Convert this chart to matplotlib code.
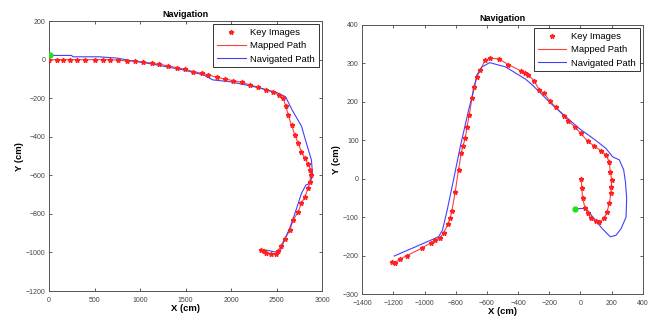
import matplotlib
matplotlib.use("Agg")
import matplotlib.pyplot as plt

plt.rcParams['font.family'] = ['Liberation Sans', 'DejaVu Sans']

# left run: mapped path (key images) and navigated path
map1_x = [0, 84, 157, 231, 311, 395, 505, 596, 670, 761, 853, 944, 1035, 1127, 1211,
          1310, 1401, 1493, 1584, 1676, 1749, 1840, 1932, 2023, 2115, 2206, 2298, 2389,
          2462, 2528, 2572, 2601, 2627, 2664, 2700, 2737, 2773, 2810, 2846, 2872, 2876,
          2865, 2847, 2810, 2773, 2737, 2682, 2645, 2591, 2547, 2517, 2492, 2444, 2389,
          2360, 2334]
map1_y = [0, 0, 0, 0, 0, 0, 0, 0, 0, -3, -6, -8, -13, -18, -24,
          -32, -41, -50, -62, -70, -79, -91, -100, -109, -117, -131, -143, -157,
          -169, -183, -200, -240, -287, -339, -391, -434, -478, -512, -542, -573, -599,
          -634, -668, -711, -746, -789, -833, -885, -928, -968, -992, -1006, -1006, -1003,
          -992, -989]
nav1_x = [11, 250, 260, 550, 750, 900, 1100, 1300, 1500, 1700, 1800, 2000, 2300, 2500,
          2598, 2671, 2773, 2828, 2883, 2894, 2872, 2821, 2773, 2700, 2640, 2590, 2536,
          2481, 2389]
nav1_y = [22, 22, 15, 15, 8, -5, -20, -38, -55, -80, -105, -115, -145, -170,
          -192, -261, -344, -434, -521, -590, -639, -651, -694, -800, -880, -930, -998,
          -997, -988]
start1 = (11, 22)

# right run
map2_x = [4, 9, 13, 28, 45, 67, 99, 120, 152, 170, 185, 195, 198, 200, 191, 185, 163,
          131, 88, 45, 2, -34, -79, -105, -159, -198, -234, -266, -298, -335, -356, -384,
          -464, -524, -578, -610, -642, -664, -685, -696, -713, -728, -739, -754, -764,
          -782, -803, -825, -835, -850, -878, -900, -932, -957, -1018, -1114, -1157,
          -1190, -1210]
map2_y = [0, -25, -49, -75, -90, -103, -110, -112, -103, -86, -64, -38, -21, -3, 18, 44,
          62, 73, 85, 98, 118, 134, 151, 163, 186, 203, 222, 232, 255, 270, 276, 281,
          297, 312, 313, 309, 284, 265, 238, 209, 166, 134, 105, 85, 66,
          24, -34, -84, -103, -118, -141, -154, -160, -166, -181, -200, -209,
          -219, -216]
nav2_x = [-34, 34, 60, 100, 140, 191, 228, 260, 292, 296, 288, 277, 249, 206, 163, 94,
          -9, -180, -309, -352, -481, -582, -631, -664, -679, -717, -771, -814, -857,
          -885, -910, -1194]
nav2_y = [-78, -77, -90, -110, -130, -151, -147, -130, -100, -50, -8, 23, 49, 57, 79,
          101, 131, 192, 244, 259, 291, 302, 291, 270, 239, 179, 83, -3, -86,
          -134, -151, -201]
start2 = (-38, -78)

fig = plt.figure(figsize=(6.56, 3.2), dpi=100)
ax1 = fig.add_axes([0.0747, 0.0906, 0.4163, 0.8434])
ax2 = fig.add_axes([0.552, 0.081, 0.428, 0.841])


def draw(ax, mx, my, nx, ny, st, xlim, ylim, xt, yt):
    ax.plot(mx, my, '*', color='#ff2020', ms=3.5, label='Key Images', zorder=3)
    ax.plot(mx, my, '-', color='#ff4040', lw=0.8, label='Mapped Path', zorder=2)
    ax.plot(nx, ny, '-', color='#4040ff', lw=0.8, label='Navigated Path', zorder=2)
    ax.plot(*st, 'o', color='#20e020', ms=3.5, zorder=4)
    ax.set_xlim(xlim)
    ax.set_ylim(ylim)
    ax.set_xticks(xt)
    ax.set_yticks(yt)
    ax.tick_params(direction='in', length=2.5, width=0.6, labelsize=5,
                   top=True, right=True, colors='#444444')
    ax.tick_params(axis='x', pad=4)
    ax.tick_params(axis='y', pad=2.5)
    for s in ax.spines.values():
        s.set_color('#555555')
        s.set_linewidth(0.7)
    ax.set_title('Navigation', fontsize=6.5, fontweight='bold', pad=3)
    ax.set_xlabel('X (cm)', fontsize=6.8, fontweight='bold', labelpad=0)
    ax.set_ylabel('Y (cm)', fontsize=6.8, fontweight='bold', labelpad=1)
    leg = ax.legend(loc='upper right', fontsize=6.8, fancybox=False, framealpha=1,
                    edgecolor='#333333', borderpad=0.4, labelspacing=0.45,
                    handlelength=3.0, handletextpad=0.5, borderaxespad=0.35)
    leg.get_frame().set_linewidth(0.7)


draw(ax1, map1_x, map1_y, nav1_x, nav1_y, start1, (0, 3000), (-1200, 200),
     range(0, 3001, 500), range(-1200, 201, 200))
draw(ax2, map2_x, map2_y, nav2_x, nav2_y, start2, (-1400, 400), (-300, 400),
     range(-1400, 401, 200), range(-300, 401, 100))

fig.savefig('out.png', dpi=100)
